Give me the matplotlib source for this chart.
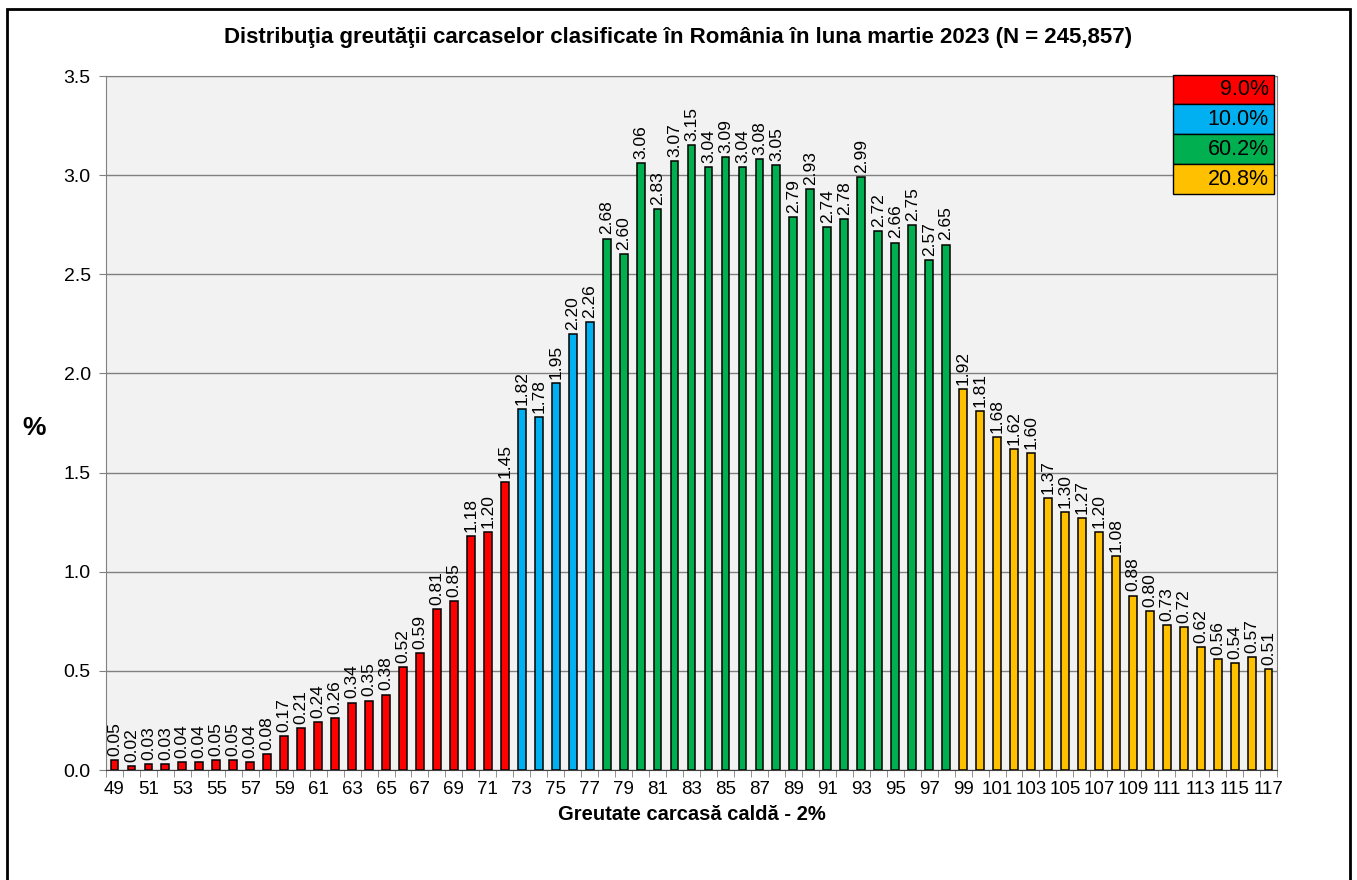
"""
Carcass weight distribution for Romania, March 2023, as coloured bar groups.
"""
import matplotlib.pyplot as plt
from matplotlib.patches import Rectangle
from matplotlib.ticker import MultipleLocator, FixedLocator

plt.rcParams['font.family'] = ['Liberation Sans', 'DejaVu Sans']

weights = list(range(49, 118))
shares = [
    0.05, 0.02, 0.03, 0.03, 0.04, 0.04, 0.05, 0.05, 0.04, 0.08,
    0.17, 0.21, 0.24, 0.26, 0.34, 0.35, 0.38, 0.52, 0.59, 0.81,
    0.85, 1.18, 1.20, 1.45,
    1.82, 1.78, 1.95, 2.20, 2.26,
    2.68, 2.60, 3.06, 2.83, 3.07, 3.15, 3.04, 3.09, 3.04, 3.08,
    3.05, 2.79, 2.93, 2.74, 2.78, 2.99, 2.72, 2.66, 2.75, 2.57, 2.65,
    1.92, 1.81, 1.68, 1.62, 1.60, 1.37, 1.30, 1.27, 1.20, 1.08,
    0.88, 0.80, 0.73, 0.72, 0.62, 0.56, 0.54, 0.57, 0.51,
]
group_sizes = [24, 5, 21, 19]
group_colors = ["#FF0000", "#00B0F0", "#00B050", "#FFC000"]
group_totals = ["9.0%", "10.0%", "60.2%", "20.8%"]

colors = []
for size, col in zip(group_sizes, group_colors):
    colors += [col] * size

fig = plt.figure(figsize=(13.57, 8.8), dpi=100)
ax = fig.add_axes([0.0781, 0.125, 0.8630, 0.7886])
ax.set_facecolor("#F2F2F2")

x = list(range(len(weights)))
ax.bar(x, shares, width=0.46, color=colors, edgecolor="black", linewidth=1.1,
       zorder=3)
for xi, val in zip(x, shares):
    ax.annotate("{:.2f}".format(val), (xi, val), xytext=(0, 3),
                textcoords="offset points", rotation=90, ha="center",
                va="bottom", fontsize=12.5, zorder=4)

ax.set_xlim(-0.5, len(weights) - 0.5)
ax.set_ylim(0, 3.5)
ax.yaxis.set_major_locator(MultipleLocator(0.5))
ax.set_yticklabels(["{:.1f}".format(v) for v in ax.get_yticks()])
ax.grid(axis="y", color="#808080", linewidth=1.0, zorder=1)

ax.set_xticks(x[::2])
ax.set_xticklabels([str(w) for w in weights[::2]])
ax.xaxis.set_minor_locator(FixedLocator([i - 0.5 for i in range(len(x) + 1)]))
ax.tick_params(axis="x", which="major", length=0, pad=8, labelsize=13.5)
ax.tick_params(axis="x", which="minor", length=5, color="#808080")
ax.tick_params(axis="y", length=5, color="#808080", labelsize=14, pad=6)
for side in ax.spines.values():
    side.set_color("#808080")
ax.spines["bottom"].set_color("#404040")

ax.set_xlabel("Greutate carcasă caldă - 2%", fontsize=14.5,
              fontweight="bold", labelpad=5)
fig.text(34 / 1357, 1 - 428 / 880, "%", ha="center", va="center",
         fontsize=19, fontweight="bold")
fig.text(0.5, 0.957,
         "Distribuţia greutăţii carcaselor clasificate în România în luna "
         "martie 2023 (N = 245,857)",
         ha="center", va="center", fontsize=16, fontweight="bold")

# colour key in the top right corner
row_tops = [1.0014, 0.9597, 0.9164, 0.8732, 0.830]
for i, (col, txt) in enumerate(zip(group_colors, group_totals)):
    top, bottom = row_tops[i], row_tops[i + 1]
    ax.add_patch(Rectangle((0.911, bottom), 0.0864, top - bottom,
                           transform=ax.transAxes, facecolor=col,
                           edgecolor="black", linewidth=1.0, zorder=5,
                           clip_on=False))
    ax.text(0.993, (top + bottom) / 2, txt, transform=ax.transAxes,
            ha="right", va="center", fontsize=15.5, zorder=6)

fig.patches.append(Rectangle((7 / 1357, -0.05), 1343 / 1357, 1.04,
                             transform=fig.transFigure, fill=False,
                             edgecolor="black", linewidth=2))

fig.savefig("out.png", dpi=100)
